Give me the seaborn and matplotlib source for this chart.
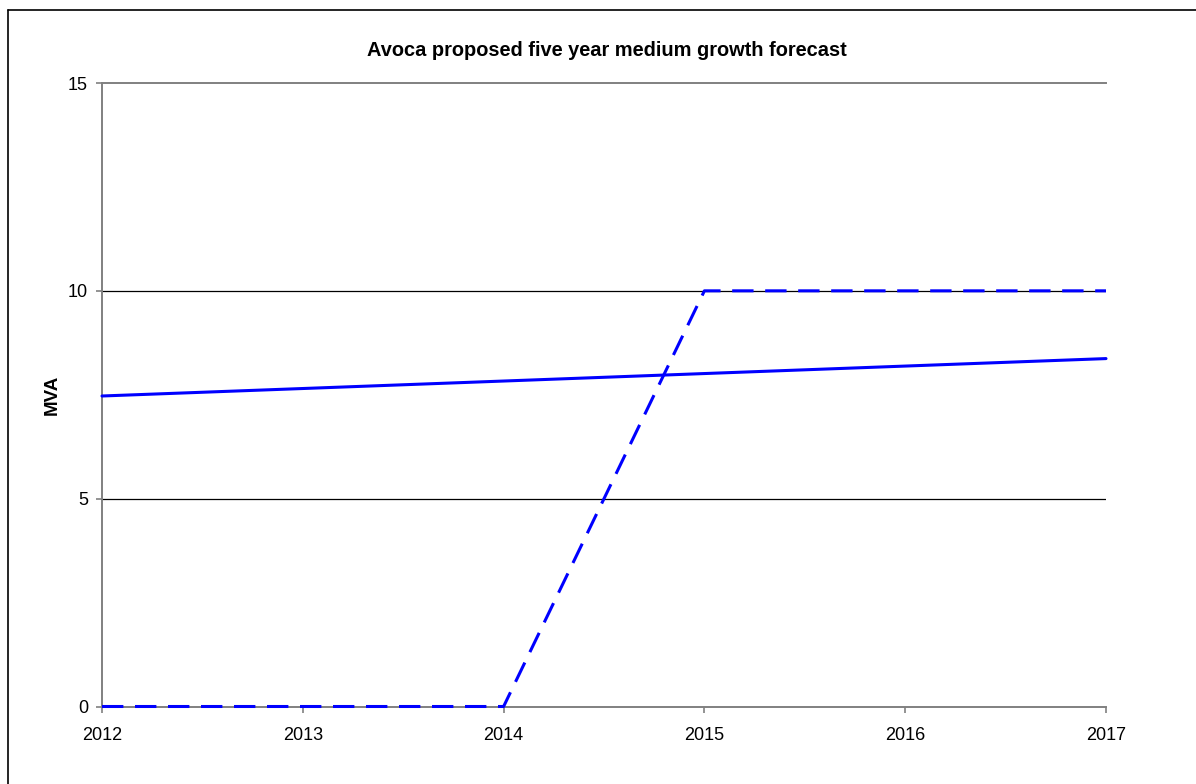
import matplotlib
matplotlib.use("Agg")
import matplotlib.pyplot as plt
from matplotlib.lines import Line2D
import pandas as pd
import seaborn as sns

# Forecast data (MVA)
years = [2012, 2013, 2014, 2015, 2016, 2017]
forecast_demand = [7.47, 7.65, 7.83, 8.01, 8.19, 8.37]
firm_capacity = [0, 0, 0, 10, 10, 10]
y_ticks = [0, 5, 10, 15]
title = "Avoca proposed five year medium growth forecast"
y_label = "MVA"

sns.set_theme(style="white")
plt.rcParams["font.family"] = ["Liberation Sans", "DejaVu Sans"]
plt.rcParams["text.color"] = "black"

df = pd.DataFrame({"year": years, "demand": forecast_demand, "capacity": firm_capacity})

fig = plt.figure(figsize=(11.96, 7.84), dpi=100)
fig.patch.set_facecolor("white")
ax = fig.add_axes([102 / 1196, 1 - 706.5 / 784, 1004 / 1196, (706.5 - 83) / 784])

sns.lineplot(data=df, x="year", y="demand", ax=ax, color="#0000FF", linewidth=2.2,
             zorder=4, clip_on=False)
sns.lineplot(data=df, x="year", y="capacity", ax=ax, color="#0000FF", linewidth=2.2,
             dashes=(7, 3.8), zorder=5, clip_on=False)

ax.set_xlim(years[0], years[-1])
ax.set_ylim(y_ticks[0], y_ticks[-1])
ax.set_xticks(years)
ax.set_yticks(y_ticks)
ax.set_xlabel("")
ax.set_ylabel("")

# Horizontal gridlines at inner ticks
for v in y_ticks[1:-1]:
    ax.axhline(v, color="black", linewidth=0.9, zorder=1)

for side in ["left", "bottom", "top"]:
    ax.spines[side].set_visible(True)
    ax.spines[side].set_color("#808080")
    ax.spines[side].set_linewidth(1.4)
ax.spines["right"].set_visible(False)

ax.tick_params(axis="both", which="major", direction="out", length=4, width=1.2,
               color="#808080", labelsize=13, labelcolor="black")
ax.tick_params(axis="x", pad=11)
ax.tick_params(axis="y", pad=6)
ax.tick_params(axis="x", bottom=True)
ax.tick_params(axis="y", left=True)

ax.text(-50 / 1004, 0.5, y_label, rotation=90, ha="center", va="center",
        transform=ax.transAxes, fontsize=13.5, fontweight="bold", color="black")

fig.text(607 / 1196, 1 - 50 / 784, title, ha="center", va="center",
         fontsize=14.4, fontweight="bold", color="black")

# Outer chart frame
fig.add_artist(Line2D([7.5 / 1196, 7.5 / 1196], [0, 1 - 9.5 / 784],
                      transform=fig.transFigure, color="black", linewidth=1.2))
fig.add_artist(Line2D([7.5 / 1196, 1], [1 - 9.5 / 784, 1 - 9.5 / 784],
                      transform=fig.transFigure, color="black", linewidth=1.2))

fig.savefig("out.png", dpi=100, facecolor="white")
